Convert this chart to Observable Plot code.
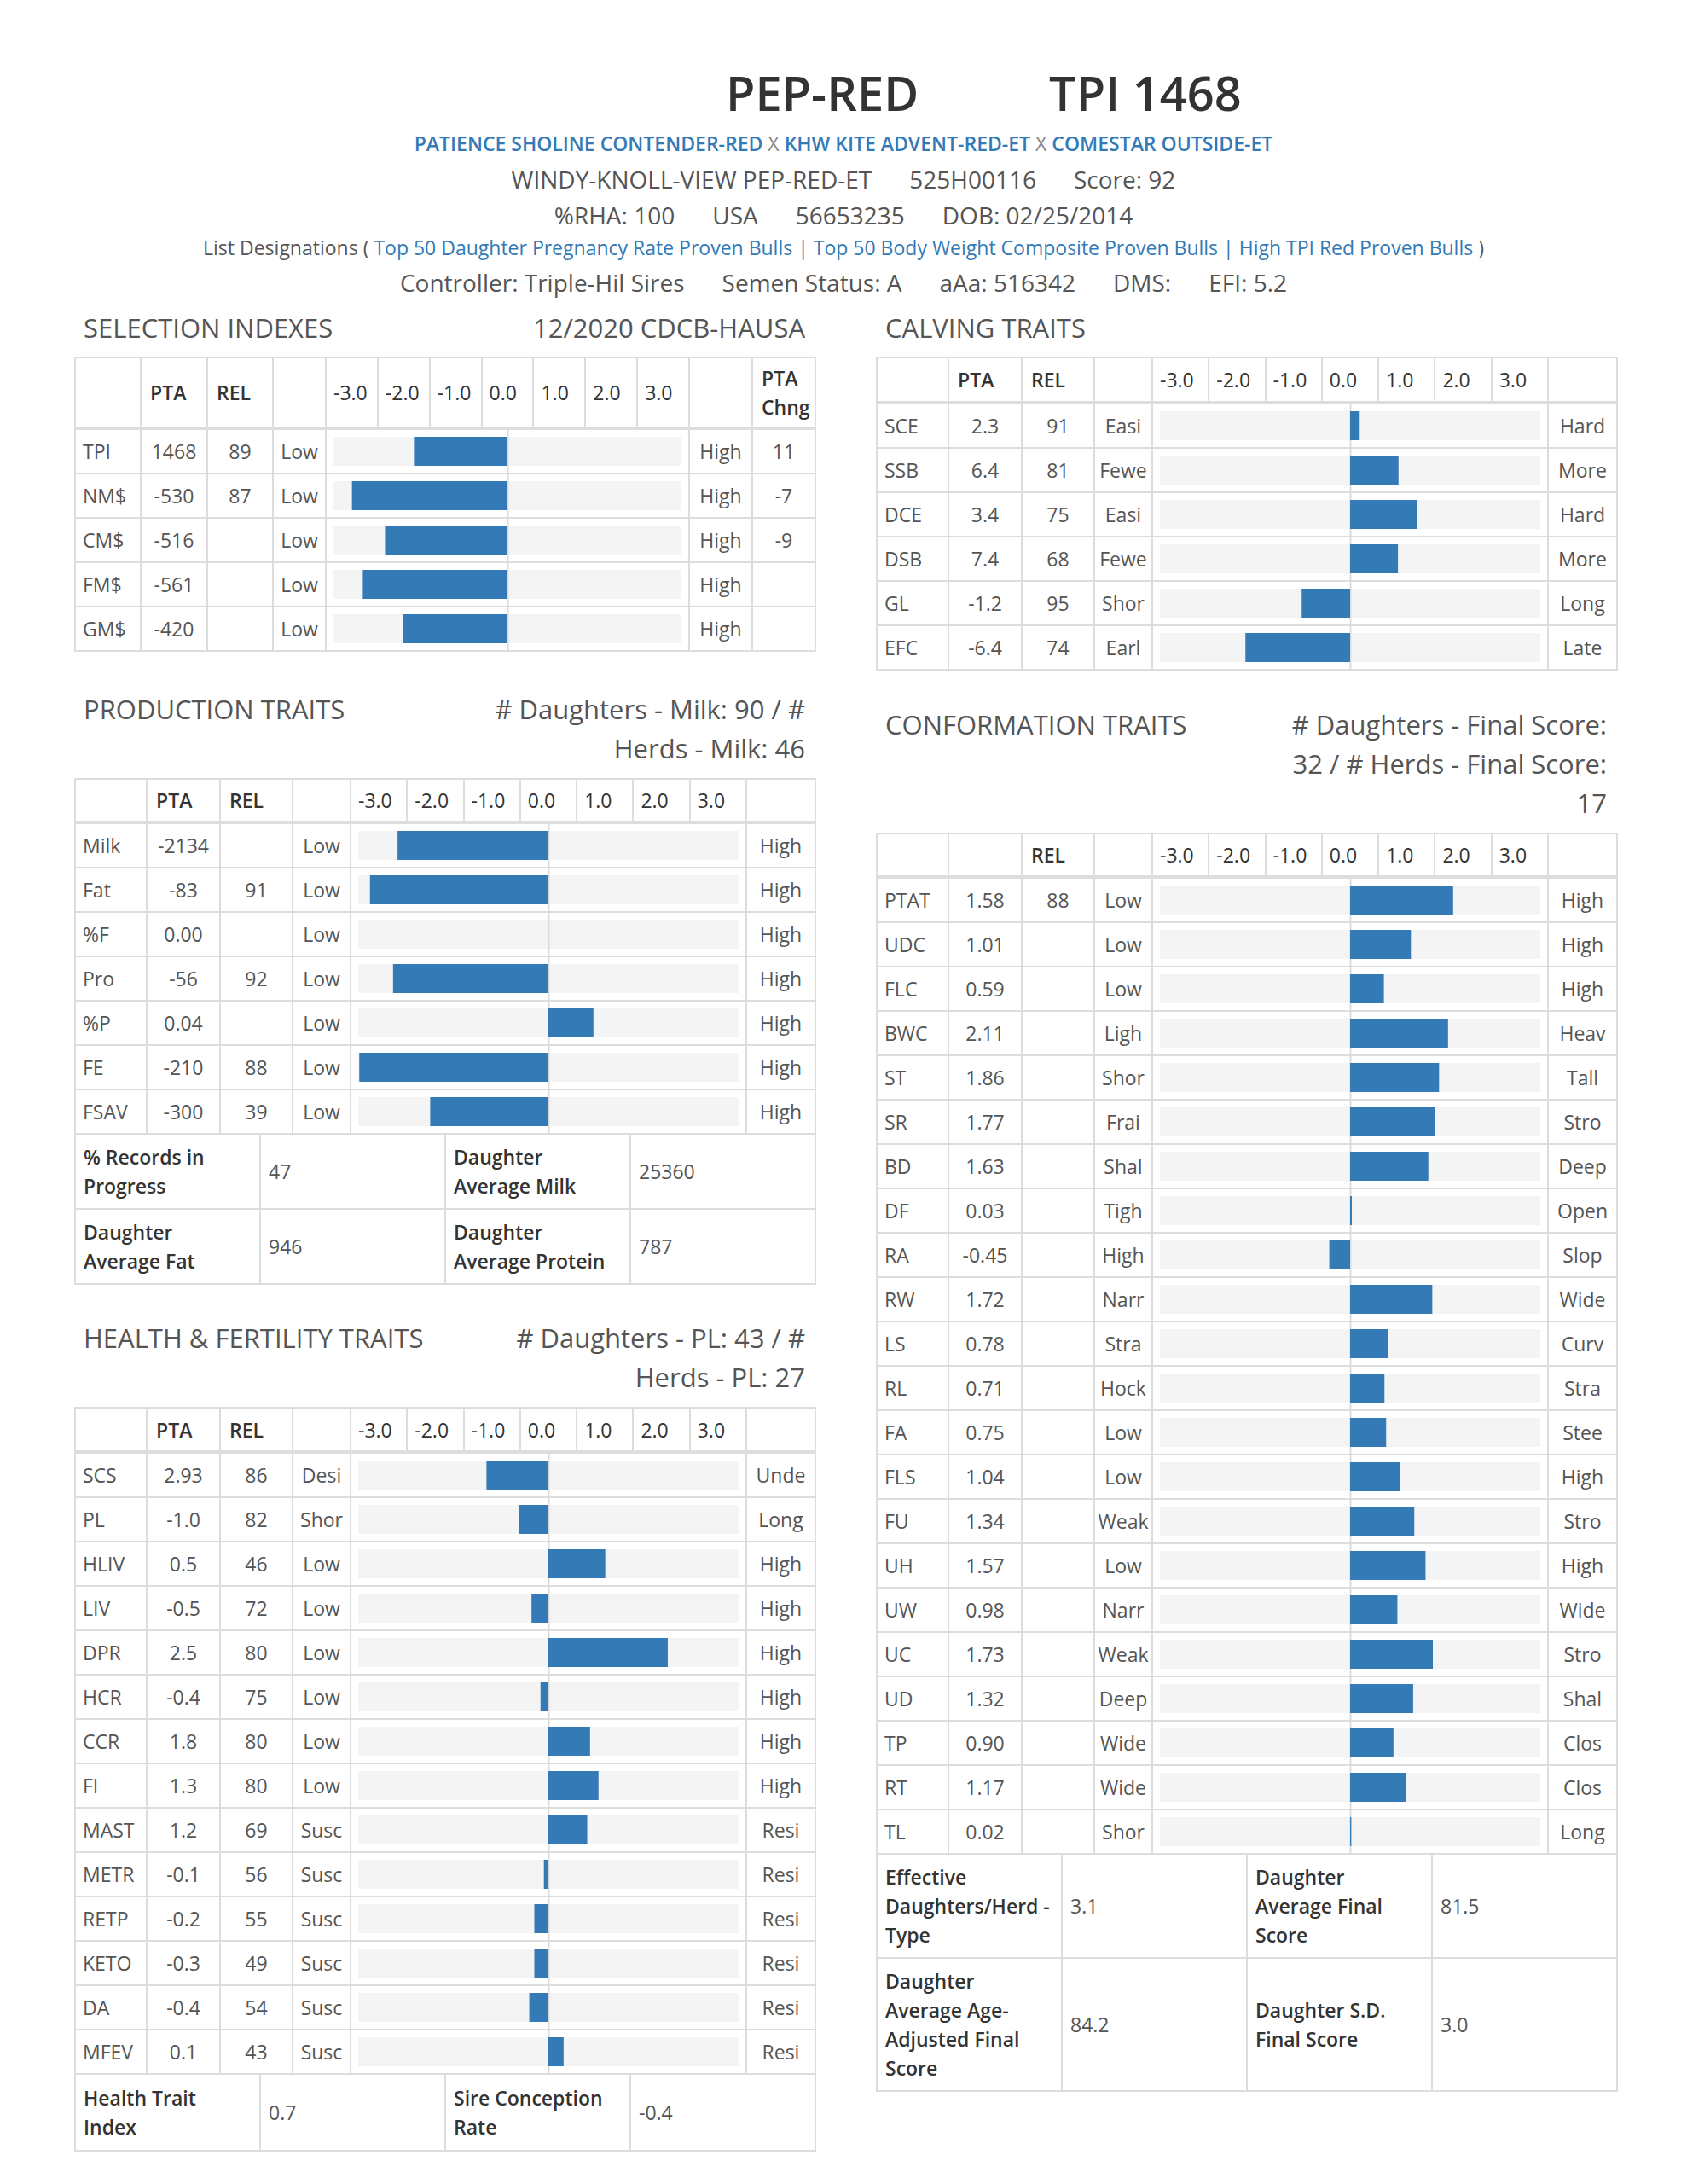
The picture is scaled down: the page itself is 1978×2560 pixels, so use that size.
<!DOCTYPE html>
<html><head><meta charset="utf-8">
<script src="https://cdn.jsdelivr.net/npm/d3@7"></script>
<script src="https://cdn.jsdelivr.net/npm/@observablehq/plot@0.6"></script>
<style>
body{margin:0;background:#fff;font-family:"Open Sans",sans-serif;color:#555;width:1978px;height:2560px;position:relative;overflow:hidden}
.abs{position:absolute}
.tbl{position:absolute;width:870px;box-sizing:border-box;background:#ddd;padding:2px}
.grid{display:grid;gap:2px;background:#ddd}
.cell{background:#fff;display:flex;align-items:center;padding:0 8px;font-size:23px;box-sizing:border-box;white-space:nowrap;overflow:hidden;color:#555}
.hd{color:#333;font-weight:600;white-space:pre-line;line-height:34px}
.cell.ticks{display:flex;gap:2px;background:#ddd;padding:0;align-items:stretch}
.ticks div{flex:1;background:#fff;display:flex;align-items:center;padding-left:8px;font-size:23px;color:#333}
.sec{position:absolute;width:846px;display:flex;justify-content:space-between;font-size:31px;line-height:46px;color:#555}
.sec .r{text-align:right;white-space:pre-line}
.line{position:absolute;left:0;width:1978px;text-align:center;white-space:nowrap}
.line span.g{display:inline-block;margin:0 22px}
a{color:#337ab7;text-decoration:none}
.slab{color:#333;font-weight:600;white-space:pre-line;line-height:34px}
</style></head>
<body>
<script>
// ---------- header info ----------
const bullName = "PEP-RED";
const tpiText = "TPI 1468";
const pedigree = ["PATIENCE SHOLINE CONTENDER-RED", "KHW KITE ADVENT-RED-ET", "COMESTAR OUTSIDE-ET"];
const infoLine1 = ["WINDY-KNOLL-VIEW PEP-RED-ET", "525H00116", "Score: 92"];
const infoLine2 = ["%RHA: 100", "USA", "56653235", "DOB: 02/25/2014"];
const listDesignations = ["Top 50 Daughter Pregnancy Rate Proven Bulls", "Top 50 Body Weight Composite Proven Bulls", "High TPI Red Proven Bulls"];
const infoLine3 = ["Controller: Triple-Hil Sires", "Semen Status: A", "aAa: 516342", "DMS:", "EFI: 5.2"];

// ---------- scale ----------
const LIM = 3.5;
const tickLabels = ["-3.0", "-2.0", "-1.0", "0.0", "1.0", "2.0", "3.0"];

// ---------- selection indexes ----------
const selTraits = ["TPI", "NM$", "CM$", "FM$", "GM$"];
const selPTA = ["1468", "-530", "-516", "-561", "-420"];
const selREL = ["89", "87", "", "", ""];
const selLow = ["Low", "Low", "Low", "Low", "Low"];
const selHigh = ["High", "High", "High", "High", "High"];
const selChng = ["11", "-7", "-9", "", ""];
const selBar = [-1.81, -3.01, -2.37, -2.80, -2.03];

// ---------- calving ----------
const calvTraits = ["SCE", "SSB", "DCE", "DSB", "GL", "EFC"];
const calvPTA = ["2.3", "6.4", "3.4", "7.4", "-1.2", "-6.4"];
const calvREL = ["91", "81", "75", "68", "95", "74"];
const calvLow = ["Easi", "Fewe", "Easi", "Fewe", "Shor", "Earl"];
const calvHigh = ["Hard", "More", "Hard", "More", "Long", "Late"];
const calvBar = [0.17, 0.86, 1.19, 0.85, -0.86, -1.86];

// ---------- production ----------
const prodTraits = ["Milk", "Fat", "%F", "Pro", "%P", "FE", "FSAV"];
const prodPTA = ["-2134", "-83", "0.00", "-56", "0.04", "-210", "-300"];
const prodREL = ["", "91", "", "92", "", "88", "39"];
const prodLow = ["Low", "Low", "Low", "Low", "Low", "Low", "Low"];
const prodHigh = ["High", "High", "High", "High", "High", "High", "High"];
const prodBar = [-2.68, -3.17, 0, -2.76, 0.80, -3.36, -2.10];
const prodSummary = [["% Records in\nProgress", "47", "Daughter\nAverage Milk", "25360"], ["Daughter\nAverage Fat", "946", "Daughter\nAverage Protein", "787"]];

// ---------- health ----------
const hlthTraits = ["SCS", "PL", "HLIV", "LIV", "DPR", "HCR", "CCR", "FI", "MAST", "METR", "RETP", "KETO", "DA", "MFEV"];
const hlthPTA = ["2.93", "-1.0", "0.5", "-0.5", "2.5", "-0.4", "1.8", "1.3", "1.2", "-0.1", "-0.2", "-0.3", "-0.4", "0.1"];
const hlthREL = ["86", "82", "46", "72", "80", "75", "80", "80", "69", "56", "55", "49", "54", "43"];
const hlthLow = ["Desi", "Shor", "Low", "Low", "Low", "Low", "Low", "Low", "Susc", "Susc", "Susc", "Susc", "Susc", "Susc"];
const hlthHigh = ["Unde", "Long", "High", "High", "High", "High", "High", "High", "Resi", "Resi", "Resi", "Resi", "Resi", "Resi"];
const hlthBar = [-1.10, -0.53, 1.01, -0.30, 2.12, -0.14, 0.74, 0.89, 0.69, -0.08, -0.25, -0.25, -0.34, 0.27];
const hlthSummary = [["Health Trait\nIndex", "0.7", "Sire Conception\nRate", "-0.4"]];

// ---------- conformation ----------
const confTraits = ["PTAT", "UDC", "FLC", "BWC", "ST", "SR", "BD", "DF", "RA", "RW", "LS", "RL", "FA", "FLS", "FU", "UH", "UW", "UC", "UD", "TP", "RT", "TL"];
const confPTA = ["1.58", "1.01", "0.59", "2.11", "1.86", "1.77", "1.63", "0.03", "-0.45", "1.72", "0.78", "0.71", "0.75", "1.04", "1.34", "1.57", "0.98", "1.73", "1.32", "0.90", "1.17", "0.02"];
const confREL = ["88", "", "", "", "", "", "", "", "", "", "", "", "", "", "", "", "", "", "", "", "", ""];
const confLow = ["Low", "Low", "Low", "Ligh", "Shor", "Frai", "Shal", "Tigh", "High", "Narr", "Stra", "Hock", "Low", "Low", "Weak", "Low", "Narr", "Weak", "Deep", "Wide", "Wide", "Shor"];
const confHigh = ["High", "High", "High", "Heav", "Tall", "Stro", "Deep", "Open", "Slop", "Wide", "Curv", "Stra", "Stee", "High", "Stro", "High", "Wide", "Stro", "Shal", "Clos", "Clos", "Long"];
const confBar = [1.83, 1.08, 0.60, 1.74, 1.58, 1.50, 1.39, 0.03, -0.37, 1.46, 0.67, 0.61, 0.64, 0.89, 1.14, 1.34, 0.84, 1.47, 1.12, 0.77, 1.00, 0.02];
const confSummary = [["Effective\nDaughters/Herd -\nType", "3.1", "Daughter\nAverage Final\nScore", "81.5"], ["Daughter\nAverage Age-\nAdjusted Final\nScore", "84.2", "Daughter S.D.\nFinal Score", "3.0"]];

// ---------- helpers ----------
function el(tag, cls, parent, text) {
  const e = document.createElement(tag);
  if (cls) e.className = cls;
  if (text !== undefined) e.textContent = text;
  (parent || document.body).appendChild(e);
  return e;
}

// title
const t1 = el("div", "abs", null, bullName);
Object.assign(t1.style, {left: "851px", top: "73px", fontSize: "56px", fontWeight: 600, color: "#333", lineHeight: "70px"});
const t2 = el("div", "abs", null, tpiText);
Object.assign(t2.style, {left: "1230px", top: "73px", fontSize: "56px", fontWeight: 600, color: "#333", lineHeight: "70px"});

const l1 = el("div", "line");
Object.assign(l1.style, {top: "153px", fontSize: "23px", lineHeight: "30px", fontWeight: 600, color: "#888"});
pedigree.forEach((p, i) => {
  if (i) el("span", null, l1, " X ").style.fontWeight = 400;
  el("a", null, l1, p);
});
function infoLine(items, top, size) {
  const d = el("div", "line");
  Object.assign(d.style, {top: top + "px", fontSize: size + "px", lineHeight: "36px", color: "#555"});
  items.forEach(s => el("span", "g", d, s));
  return d;
}
infoLine(infoLine1, 192, 28);
infoLine(infoLine2, 234, 28);
const l5 = el("div", "line");
Object.assign(l5.style, {top: "275px", fontSize: "23px", lineHeight: "30px", color: "#555"});
el("span", null, l5, "List Designations ( ");
listDesignations.forEach((s, i) => {
  if (i) el("a", null, l5, " | ");
  el("a", null, l5, s);
});
el("span", null, l5, " )");
infoLine(infoLine3, 313, 28);

function secHead(left, top, title, right) {
  const d = el("div", "sec");
  Object.assign(d.style, {left: (left + 11) + "px", top: top + "px"});
  el("div", null, d, title);
  el("div", "r", d, right);
}

function barPlot(traits, bars, width) {
  const data = traits.map((t, i) => ({trait: t, bar: bars[i]}));
  return Plot.plot({
    width, height: traits.length * 52,
    marginTop: 0, marginBottom: 0, marginLeft: 0, marginRight: 0,
    x: {domain: [-LIM, LIM], axis: null},
    y: {domain: traits, axis: null, padding: 0},
    style: {background: "transparent", overflow: "visible"},
    marks: [
      Plot.barX(data, {x1: () => -LIM, x2: () => LIM, y: "trait", fill: "#f4f4f4", insetLeft: 8, insetRight: 8, insetTop: 9, insetBottom: 9}),
      Plot.ruleX([0], {stroke: "#dcdcdc", strokeWidth: 2}),
      Plot.barX(data, {x1: () => 0, x2: "bar", y: "trait", fill: "#337ab7", insetTop: 9, insetBottom: 9})
    ]
  });
}

function makeTable(o) {
  const t = el("div", "tbl");
  Object.assign(t.style, {left: o.left + "px", top: o.top + "px"});
  const tmpl = o.cols.map(c => c + "px").join(" ");
  const hg = el("div", "grid", t);
  Object.assign(hg.style, {gridTemplateColumns: tmpl, gridTemplateRows: o.hh + "px"});
  o.heads.forEach((h, j) => {
    if (j === o.barIdx) {
      const c = el("div", "cell ticks", hg);
      tickLabels.forEach(tk => el("div", null, c, tk));
    } else {
      const c = el("div", "cell hd", hg, h);
      c.style.paddingLeft = "10px";
    }
  });
  const dg = el("div", "grid", t);
  Object.assign(dg.style, {gridTemplateColumns: tmpl, gridAutoRows: "50px", marginTop: "4px"});
  const n = o.traits.length;
  for (let i = 0; i < n; i++) {
    o.columns.forEach((col, j) => {
      const c = el("div", "cell", dg, col ? col[i] : "");
      if (j === 0) c.style.justifyContent = "flex-start";
      else { c.style.justifyContent = "center"; c.style.padding = "0 2px"; }
    });
  }
  // bar plot overlay
  const bx = 2 + o.cols.slice(0, o.barIdx).reduce((a, b) => a + b, 0) + 2 * o.barIdx;
  const wrap = el("div", "abs", t);
  Object.assign(wrap.style, {left: bx + "px", top: (2 + o.hh + 4 - 1) + "px"});
  wrap.appendChild(barPlot(o.traits, o.bars, o.cols[o.barIdx]));
  if (o.summary) {
    const sg = el("div", "grid", t);
    Object.assign(sg.style, {gridTemplateColumns: "1fr 1fr 1fr 1fr", gridTemplateRows: o.sumH.map(h => h + "px").join(" "), marginTop: "2px"});
    o.summary.forEach(row => row.forEach((s, k) => {
      const c = el("div", "cell" + (k % 2 === 0 ? " slab" : ""), sg, s);
      c.style.paddingLeft = "9px";
    }));
  }
}

const LX = 87, RX = 1027;
const colsL = [75, 76, 75, 60, 424, 72, 72];
const colsR = [82, 84, 83, 66, 462, 79];
const headL = ["", "PTA", "REL", "", "", "", "PTA\nChng"];
const headR = ["", "PTA", "REL", "", "", ""];

secHead(LX, 361, "SELECTION INDEXES", "12/2020 CDCB-HAUSA");
makeTable({left: LX, top: 418, cols: colsL, barIdx: 4, heads: headL, hh: 80,
  traits: selTraits, bars: selBar, columns: [selTraits, selPTA, selREL, selLow, null, selHigh, selChng]});

secHead(RX, 361, "CALVING TRAITS", "");
makeTable({left: RX, top: 418, cols: colsR, barIdx: 4, heads: headR, hh: 50,
  traits: calvTraits, bars: calvBar, columns: [calvTraits, calvPTA, calvREL, calvLow, null, calvHigh]});

secHead(LX, 808, "PRODUCTION TRAITS", "# Daughters - Milk: 90 / #\nHerds - Milk: 46");
makeTable({left: LX, top: 912, cols: colsR, barIdx: 4, heads: headR, hh: 48,
  traits: prodTraits, bars: prodBar, columns: [prodTraits, prodPTA, prodREL, prodLow, null, prodHigh],
  summary: prodSummary, sumH: [86, 86]});

secHead(LX, 1545, "HEALTH & FERTILITY TRAITS", "# Daughters - PL: 43 / #\nHerds - PL: 27");
makeTable({left: LX, top: 1649, cols: colsR, barIdx: 4, heads: headR, hh: 49,
  traits: hlthTraits, bars: hlthBar, columns: [hlthTraits, hlthPTA, hlthREL, hlthLow, null, hlthHigh],
  summary: hlthSummary, sumH: [88]});

secHead(RX, 826, "CONFORMATION TRAITS", "# Daughters - Final Score:\n32 / # Herds - Final Score:\n17");
makeTable({left: RX, top: 976, cols: colsR, barIdx: 4, heads: ["", "", "REL", "", "", ""], hh: 48,
  traits: confTraits, bars: confBar, columns: [confTraits, confPTA, confREL, confLow, null, confHigh],
  summary: confSummary, sumH: [120, 154]});
</script>
</body></html>
